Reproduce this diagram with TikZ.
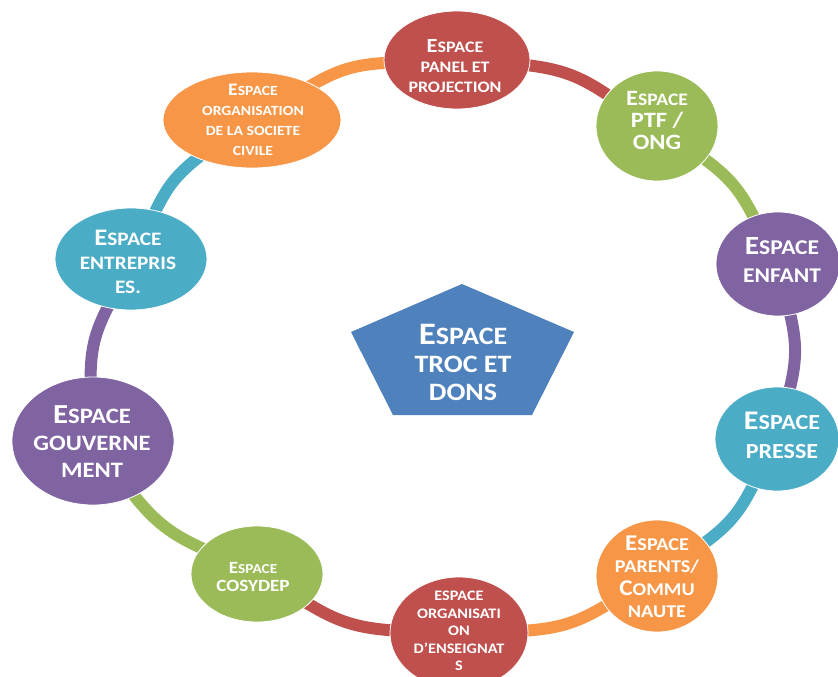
\documentclass[tikz,border=0pt]{standalone}
\usepackage{fontspec}
\setmainfont{Carlito}[FakeStretch=1.12]
\usepackage{graphicx}
\usetikzlibrary{shapes.geometric,backgrounds}
\definecolor{cred}{HTML}{C0504D}
\definecolor{cgreen}{HTML}{9BBB59}
\definecolor{cpurple}{HTML}{8064A2}
\definecolor{cteal}{HTML}{4BACC6}
\definecolor{corange}{HTML}{F79646}
\definecolor{cblue}{HTML}{4F81BD}
\newcommand\BL[1]{\scalebox{1.25}{#1}}
\tikzset{
  ell/.style={ellipse, inner sep=0pt, draw=white, line width=0.8pt},
  txt/.style={text=white, align=center, inner sep=0pt},
  fs/.style 2 args={font=\bfseries\fontsize{#1}{#2}\selectfont},
  ring/.style={line width=12pt, shorten <=-6pt, shorten >=-6pt},
}
\begin{document}
\begin{tikzpicture}[x=1pt,y=-1pt]
\useasboundingbox (0,0) rectangle (838,677);
% ellipses
\node[ell, fill=cred, minimum width=146pt, minimum height=98pt] (panel) at (457,60) {};
\node[ell, fill=cgreen, minimum width=122pt, minimum height=110pt] (ptf) at (657,126) {};
\node[ell, fill=cpurple, minimum width=124pt, minimum height=104pt] (enfant) at (778,264) {};
\node[ell, fill=cteal, minimum width=124pt, minimum height=104pt] (presse) at (777,439) {};
\node[ell, fill=corange, minimum width=122pt, minimum height=112pt] (parents) at (657,576) {};
\node[ell, fill=cred, minimum width=138pt, minimum height=112pt] (enseign) at (459,633) {};
\node[ell, fill=cgreen, minimum width=132pt, minimum height=96pt] (cosydep) at (257,574) {};
\node[ell, fill=cpurple, minimum width=162pt, minimum height=128pt] (gouv) at (93,441) {};
\node[ell, fill=cteal, minimum width=152pt, minimum height=102pt] (entrep) at (131,259) {};
\node[ell, fill=corange, minimum width=178pt, minimum height=96pt] (societe) at (252,120) {};
% connectors
\begin{pgfonlayer}{background}
\fill[white] (0,0) rectangle (838,677);
\draw[ring, cred] (panel) to[bend left=14] (ptf);
\draw[ring, cgreen] (ptf) to[bend left=14] (enfant);
\draw[ring, cpurple] (enfant) to[bend left=14] (presse);
\draw[ring, cteal] (presse) to[bend left=14] (parents);
\draw[ring, corange] (parents) to[bend left=14] (enseign);
\draw[ring, cred] (enseign) to[bend left=14] (cosydep);
\draw[ring, cgreen] (cosydep) to[bend left=14] (gouv);
\draw[ring, cpurple] (gouv) to[bend left=14] (entrep);
\draw[ring, cteal] (entrep) to[bend left=14] (societe);
\draw[ring, corange] (societe) to[bend left=14] (panel);
\end{pgfonlayer}
% pentagon
\fill[cblue] (351,332) -- (462,284) -- (574,332) -- (532,415) -- (393,415) -- cycle;
% texts
\node[txt, fs={16}{20}] (panelT) at (455,66) {\BL{E}SPACE\\PANEL ET\\PROJECTION};
\node[txt, fs={17.5}{22}] (ptfT) at (657,120) {\BL{E}SPACE\\\BL{PTF /}\\\BL{ONG}};
\node[txt, fs={21}{28}] (enfantT) at (782,260) {\BL{E}SPACE\\ENFANT};
\node[txt, fs={21.5}{29}] (presseT) at (782,435) {\BL{E}SPACE\\PRESSE};
\node[txt, fs={18}{22.5}] (parentsT) at (657,577) {\BL{E}SPACE\\PARENTS/\\\BL{C}OMMU\\NAUTE};
\node[txt, fs={14.5}{17.5}] (enseignT) at (459,631) {ESPACE\\ORGANISATI\\ON\\D'ENSEIGNAT\\S};
\node[txt, fs={13.7}{17.5}] (cosydepT) at (253,577) {\BL{E}SPACE\\\BL{COSYDEP}};
\node[txt, fs={22}{27}] (gouvT) at (92,442) {\BL{E}SPACE\\GOUVERNE\\MENT};
\node[txt, fs={19}{24}] (entrepT) at (128,262) {\BL{E}SPACE\\ENTREPRIS\\ES.};
\node[txt, fs={14}{20}] (societeT) at (253,120) {\BL{E}SPACE\\ORGANISATION\\DE LA SOCIETE\\CIVILE};
\node[txt, fs={25}{28}] (trocT) at (463,362) {\BL{E}SPACE\\TROC ET\\DONS};
\end{tikzpicture}
\end{document}
